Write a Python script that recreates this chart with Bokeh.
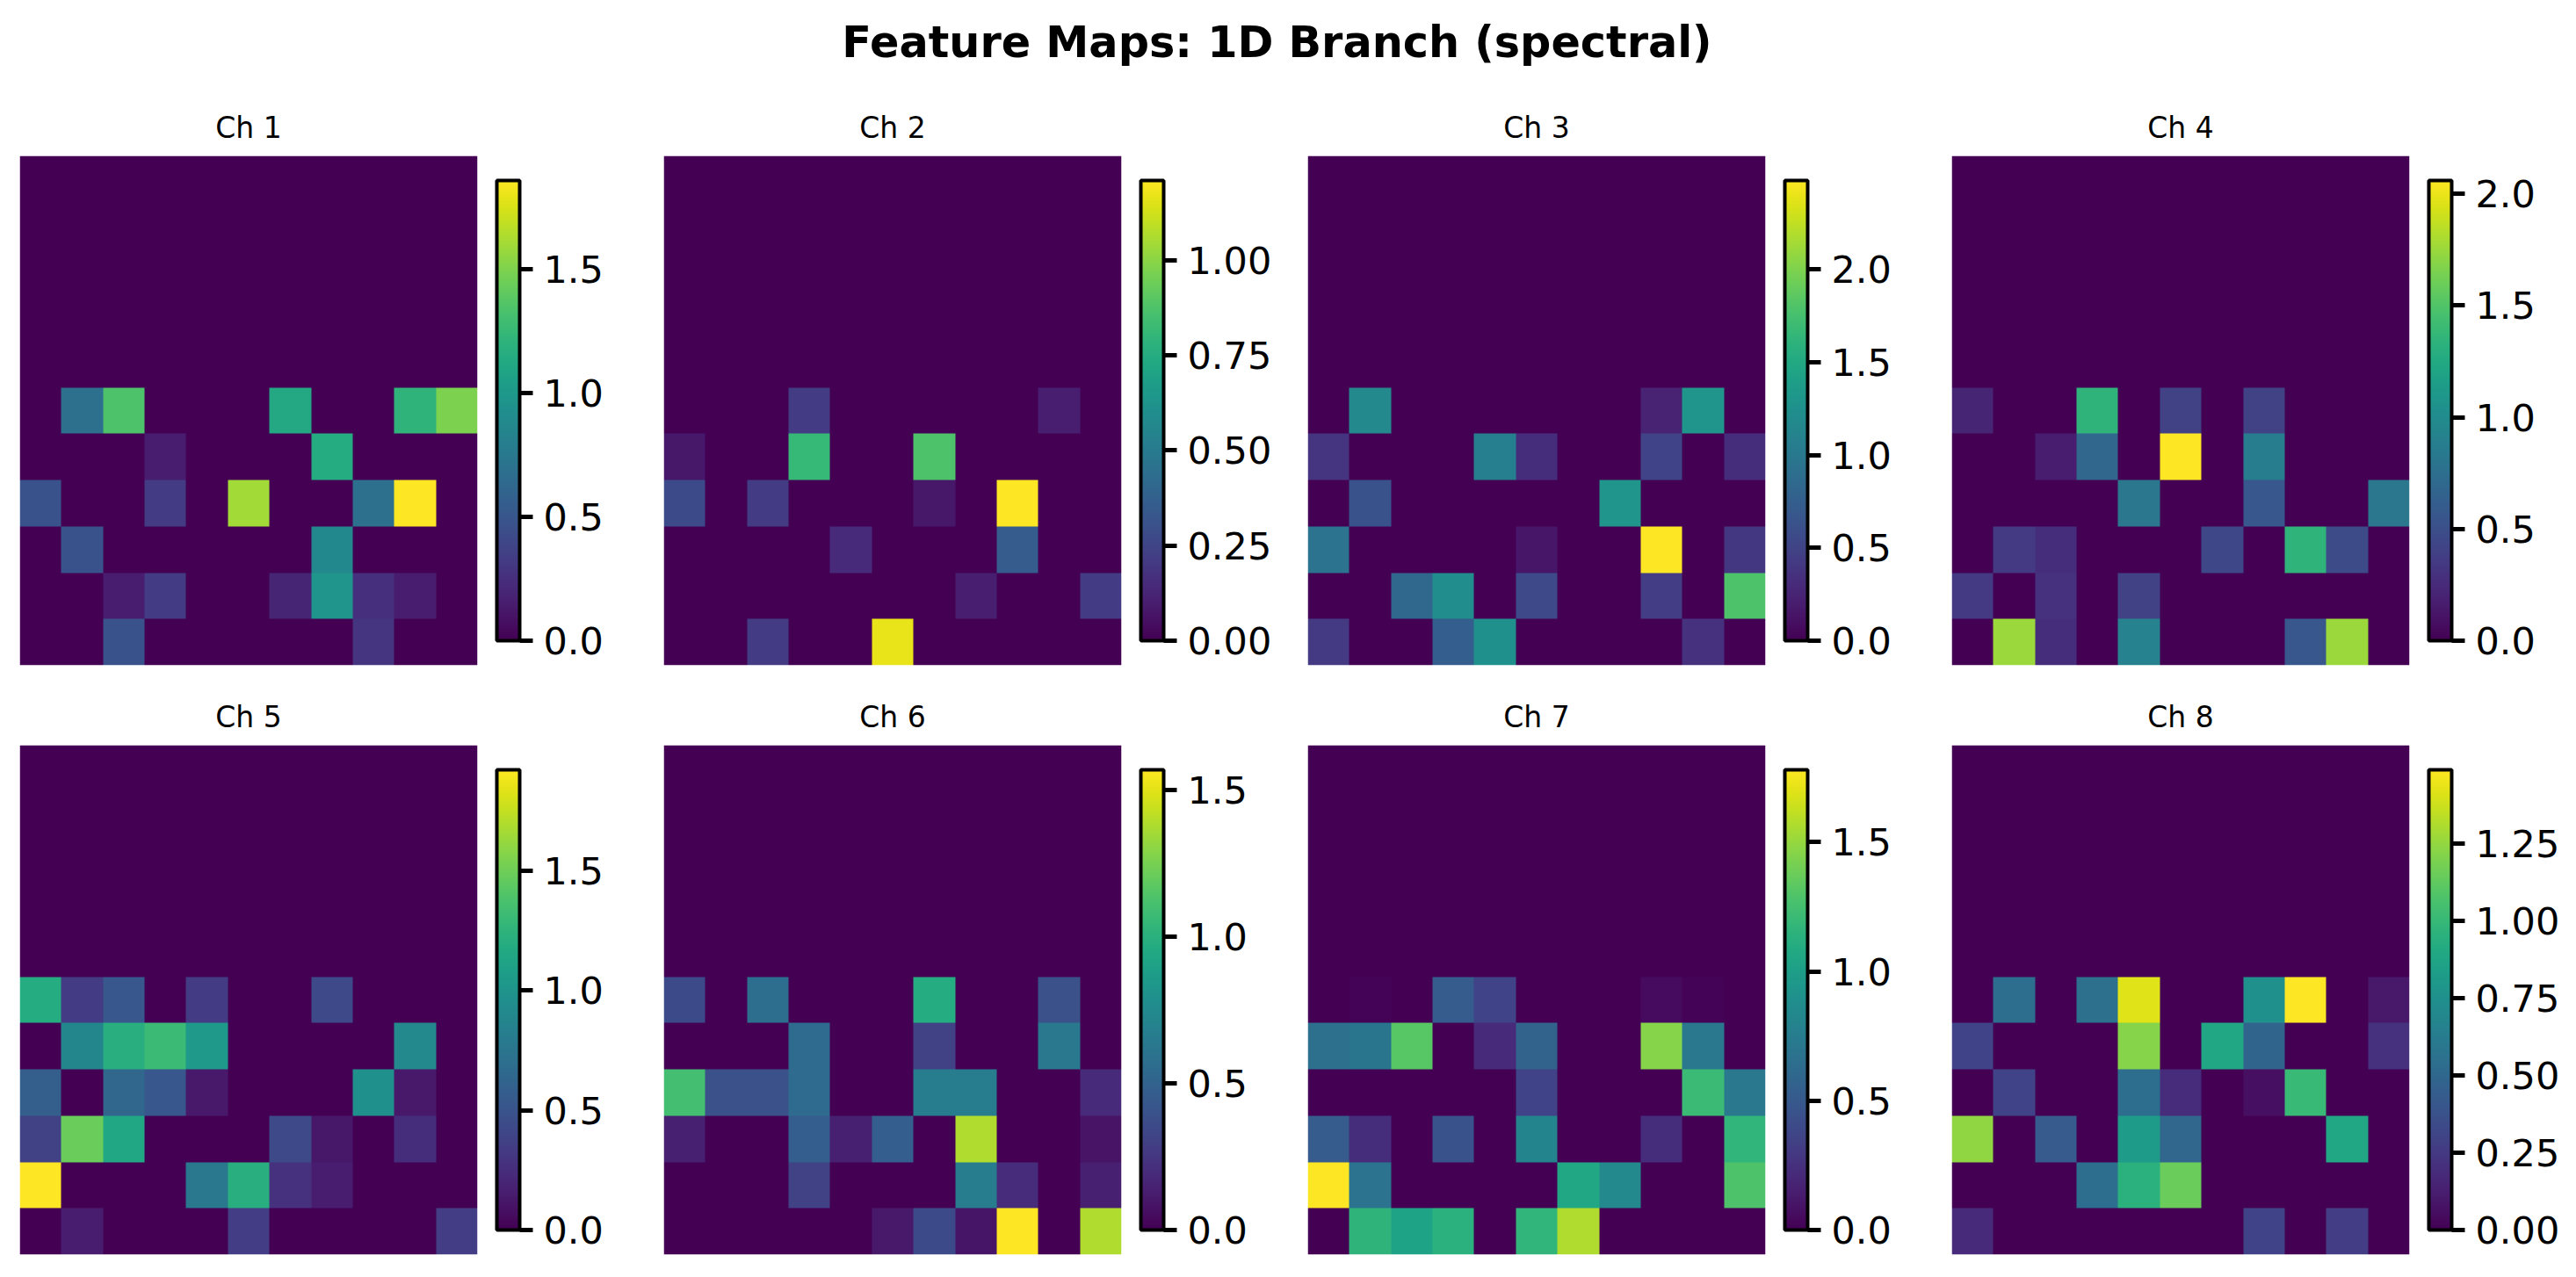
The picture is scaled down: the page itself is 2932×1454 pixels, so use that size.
import numpy as np
from bokeh.embed import file_html
from bokeh.layouts import column, row
from bokeh.models import ColorBar, FixedTicker, LinearColorMapper, PrintfTickFormatter, Range1d
from bokeh.palettes import Viridis256
from bokeh.plotting import figure
from bokeh.resources import INLINE
from bokeh.core.properties import value

TITLE = "Feature Maps: 1D Branch (spectral)"
CHANNELS = ["Ch 1", "Ch 2", "Ch 3", "Ch 4", "Ch 5", "Ch 6", "Ch 7", "Ch 8"]
ZERO = [0] * 11

CH1 = [
    [0, .69, 1.34, 0, 0, 0, 1.12, 0, 0, 1.21, 1.49],
    [0, 0, 0, .15, 0, 0, 0, 1.15, 0, 0, 0],
    [.47, 0, 0, .32, 0, 1.60, 0, 0, .69, 1.86, 0],
    [0, .47, 0, 0, 0, 0, 0, .87, 0, 0, 0],
    [0, 0, .15, .32, 0, 0, .19, .97, .26, .15, 0],
    [0, 0, .47, 0, 0, 0, 0, 0, .28, 0, 0],
]
CH2 = [
    [0, 0, 0, .21, 0, 0, 0, 0, 0, .10, 0],
    [.08, 0, 0, .81, 0, 0, .87, 0, 0, 0, 0],
    [.27, 0, .21, 0, 0, 0, .08, 0, 1.21, 0, 0],
    [0, 0, 0, 0, .15, 0, 0, 0, .35, 0, 0],
    [0, 0, 0, 0, 0, 0, 0, .10, 0, 0, .21],
    [0, 0, .21, 0, 0, 1.17, 0, 0, 0, 0, 0],
]
CH3 = [
    [0, 1.17, 0, 0, 0, 0, 0, 0, .25, 1.29, 0],
    [.37, 0, 0, 0, 1.07, .32, 0, 0, .50, 0, .32],
    [0, .62, 0, 0, 0, 0, 0, 1.29, 0, 0, 0],
    [.94, 0, 0, 0, 0, .15, 0, 0, 2.48, 0, .40],
    [0, 0, .84, 1.22, 0, .55, 0, 0, .45, 0, 1.79],
    [.42, 0, 0, .74, 1.24, 0, 0, 0, 0, .35, 0],
]
CH4 = [
    [.21, 0, 0, 1.34, 0, .41, 0, .41, 0, 0, 0],
    [0, 0, .16, .68, 0, 2.06, 0, .87, 0, 0, 0],
    [0, 0, 0, 0, .82, 0, 0, .56, 0, 0, .82],
    [0, .35, .27, 0, 0, 0, .45, 0, 1.34, .47, 0],
    [.35, 0, .29, 0, .41, 0, 0, 0, 0, 0, 0],
    [0, 1.75, .27, 0, .91, 0, 0, 0, .56, 1.75, 0],
]
CH5 = [
    [1.19, .33, .52, 0, .33, 0, 0, .42, 0, 0, 0],
    [0, .88, 1.21, 1.31, 1.04, 0, 0, 0, 0, .90, 0],
    [.58, 0, .63, .52, .13, 0, 0, 0, .96, .13, 0],
    [.38, 1.48, 1.15, 0, 0, 0, .42, .12, 0, .25, 0],
    [1.92, 0, 0, 0, .77, 1.21, .27, .15, 0, 0, 0],
    [0, .15, 0, 0, 0, .35, 0, 0, 0, 0, .35],
]
CH6 = [
    [.35, 0, .57, 0, 0, 0, .97, 0, 0, .39, 0],
    [0, 0, 0, .55, 0, 0, .31, 0, 0, .63, 0],
    [1.10, .39, .39, .55, 0, 0, .66, .66, 0, 0, .19],
    [.14, 0, 0, .47, .14, .47, 0, 1.38, 0, 0, .08],
    [0, 0, 0, .31, 0, 0, 0, .66, .20, 0, .14],
    [0, 0, 0, 0, 0, .11, .35, .09, 1.57, 0, 1.38],
]
CH7 = [
    [0, .02, 0, .52, .36, 0, 0, 0, .05, .02, 0],
    [.66, .69, 1.32, 0, .21, .57, 0, 0, 1.46, .71, 0],
    [0, 0, 0, 0, 0, .36, 0, 0, 0, 1.21, .71],
    [.52, .23, 0, .45, 0, .80, 0, 0, .23, 0, 1.17],
    [1.78, .68, 0, 0, 0, 0, 1.07, .84, 0, 0, 1.28],
    [0, 1.16, 1.03, 1.14, 0, 1.17, 1.57, 0, 0, 0, 0],
]
CH8 = [
    [0, .54, 0, .55, 1.42, 0, 0, .75, 1.49, 0, .10],
    [.30, 0, 0, 0, 1.22, 0, .89, .48, 0, 0, .21],
    [0, .30, 0, 0, .54, .19, 0, .06, 1.01, 0, 0],
    [1.24, 0, .43, 0, .82, .49, 0, 0, 0, .89, 0],
    [0, 0, 0, .54, .95, 1.15, 0, 0, 0, 0, 0],
    [.18, 0, 0, 0, 0, 0, 0, .30, 0, .27, 0],
]
GRIDS = [CH1, CH2, CH3, CH4, CH5, CH6, CH7, CH8]
VMAX = [1.86, 1.21, 2.48, 2.06, 1.92, 1.57, 1.78, 1.49]
TICKS = [
    [0, .5, 1, 1.5],
    [0, .25, .5, .75, 1],
    [0, .5, 1, 1.5, 2],
    [0, .5, 1, 1.5, 2],
    [0, .5, 1, 1.5],
    [0, .5, 1, 1.5],
    [0, .5, 1, 1.5],
    [0, .25, .5, .75, 1, 1.25],
]
TICK_FORMAT = ["%.1f", "%.2f", "%.1f", "%.1f", "%.1f", "%.1f", "%.1f", "%.2f"]

FONT = "DejaVu Sans"
PITCH_W, PITCH_H = 733, 671
LEFT, TOP, BOTTOM = 22, 70, 21


def panel(i):
    w = PITCH_W
    p = figure(
        width=w, height=PITCH_H, output_backend="svg", toolbar_location=None,
        x_range=Range1d(0, 11), y_range=Range1d(0, 11), title=CHANNELS[i],
        min_border_left=LEFT, min_border_right=w - LEFT - 521,
        min_border_top=TOP, min_border_bottom=BOTTOM,
    )
    p.title.align = "center"
    p.title.text_font = FONT
    p.title.text_font_size = "33px"
    p.title.text_font_style = "normal"
    p.title.text_color = "black"
    p.title.standoff = 25
    p.axis.visible = False
    p.grid.visible = False
    p.outline_line_color = None
    mapper = LinearColorMapper(palette=Viridis256, low=0, high=VMAX[i])
    grid = np.array([ZERO] * 5 + GRIDS[i], dtype=float)[::-1]
    p.image(image=[grid], x=0, y=0, dw=11, dh=11, color_mapper=mapper)
    cb = ColorBar(
        color_mapper=mapper, ticker=FixedTicker(ticks=TICKS[i]),
        formatter=PrintfTickFormatter(format=TICK_FORMAT[i]),
        width=26, height=524, location=(22, 28), padding=0, margin=0,
        bar_line_color="black", bar_line_width=4,
        major_tick_in=0, major_tick_out=15, major_tick_line_color="black", major_tick_line_width=5,
        minor_tick_line_color=None, label_standoff=12,
        major_label_text_font=FONT, major_label_text_font_size="43px", major_label_text_color="black",
        background_fill_color=None, border_line_color=None,
    )
    p.add_layout(cb, "right")
    return p


head = figure(
    width=2932, height=107, output_backend="svg", toolbar_location=None,
    x_range=Range1d(0, 2932), y_range=Range1d(0, 107),
    min_border_left=0, min_border_right=0, min_border_top=0, min_border_bottom=0,
)
head.axis.visible = False
head.grid.visible = False
head.outline_line_color = None
head.text(
    x=[1453], y=[60], text=[TITLE], text_align="center", text_baseline="middle",
    text_font=value(FONT), text_font_size="49.3px", text_font_style="bold", text_color="black",
)

layout = column(
    head,
    row(*[panel(i) for i in range(4)], spacing=0),
    row(*[panel(i) for i in range(4, 8)], spacing=0),
    spacing=0,
)
open("out.html", "w").write(file_html(layout, INLINE))
